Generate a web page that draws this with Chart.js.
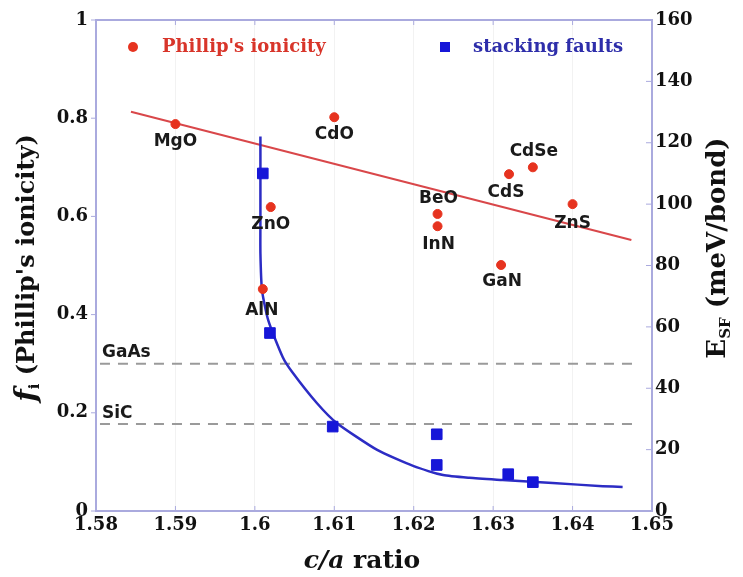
<!DOCTYPE html>
<html>
<head>
<meta charset="utf-8">
<script src="https://cdn.jsdelivr.net/npm/chart.js@4/dist/chart.umd.min.js"></script>
<style>
  body { margin: 0; background: #fff; }
  canvas { display: block; }
</style>
</head>
<body>
<canvas id="caChart" width="743" height="577"></canvas>
<script>
// Phillip's ionicity of each compound vs c/a
const compounds = ["MgO", "CdO", "ZnO", "AlN", "BeO", "InN", "GaN", "CdS", "CdSe", "ZnS"];
const caRatio   = [1.590, 1.610, 1.602, 1.601, 1.623, 1.623, 1.631, 1.632, 1.635, 1.640];
const ionicity  = [0.788, 0.802, 0.619, 0.452, 0.605, 0.580, 0.501, 0.686, 0.700, 0.625];

// linear trend through the ionicity points
const fitCa = [1.5844, 1.6474];
const fitIonicity = [0.813, 0.552];

// stacking fault energies (right axis)
const sfCa     = [1.6010, 1.6019, 1.6098, 1.6229, 1.6229, 1.6319, 1.6350];
const sfEnergy = [110, 58, 27.5, 25, 15, 12, 9.4];

// fitted curve through the stacking fault energies
const curveCa     = [1.6007, 1.6007, 1.6007, 1.6007, 1.6009, 1.6017, 1.6035, 1.6047, 1.6078, 1.6103, 1.6154, 1.6200, 1.6237, 1.6270, 1.6312, 1.6375, 1.6438, 1.6463];
const curveEnergy = [122, 110, 95, 84, 72, 62, 50.2, 45.3, 35.2, 28.7, 19.9, 14.6, 11.7, 10.8, 10.1, 9.1, 8.1, 7.8];

// reference compounds shown as dashed lines
const refNames = ["GaAs", "SiC"];
const refIonicity = [0.30, 0.177];
const refCa = [1.5805, 1.648];

const xTicks = [1.58, 1.59, 1.60, 1.61, 1.62, 1.63, 1.64, 1.65];
const xTickLabels = ["1.58", "1.59", "1.6", "1.61", "1.62", "1.63", "1.64", "1.65"];
const yTicks = [0, 0.2, 0.4, 0.6, 0.8, 1];
const yTickLabels = ["0", "0.2", "0.4", "0.6", "0.8", "1"];
const eTicks = [0, 20, 40, 60, 80, 100, 120, 140, 160];
const eTickLabels = ["0", "20", "40", "60", "80", "100", "120", "140", "160"];

// label placement relative to each red dot (pixels)
const labelOffset = {
  MgO: [0, 17], CdO: [0, 17], ZnO: [0, 18], AlN: [-1, 22], BeO: [1, -15],
  InN: [1, 18], GaN: [1, 17], CdS: [-3, 18], CdSe: [1, -16], ZnS: [0, 19]
};

const RED = "#e6331f";
const RED_LINE = "#d9474a";
const BLUE = "#1616d8";
const BLUE_LINE = "#2c2cc4";
const FRAME = "#aaaade";
const SERIF = "'DejaVu Serif', serif";
const SANS = "'DejaVu Sans', sans-serif";

const zip = (xs, ys) => xs.map((x, i) => ({ x: x, y: ys[i] }));

function drawParts(ctx, parts, cx, cy, angle) {
  ctx.save();
  ctx.translate(cx, cy);
  ctx.rotate(angle);
  ctx.textBaseline = "middle";
  ctx.textAlign = "left";
  let total = 0;
  parts.forEach(p => { ctx.font = p.font; p.w = ctx.measureText(p.text).width; total += p.w; });
  let x = -total / 2;
  parts.forEach(p => {
    ctx.font = p.font;
    ctx.fillText(p.text, x, p.dy || 0);
    x += p.w;
  });
  ctx.restore();
}

const decorations = {
  id: "decorations",
  afterDatasetsDraw(chart) {
    const ctx = chart.ctx;
    const a = chart.chartArea;
    const xs = chart.scales.x, ys = chart.scales.y, es = chart.scales.y2;

    // frame and tick marks
    ctx.save();
    ctx.strokeStyle = FRAME;
    ctx.lineWidth = 2;
    ctx.strokeRect(a.left, a.top, a.right - a.left, a.bottom - a.top);
    ctx.lineWidth = 1;
    ctx.beginPath();
    xTicks.forEach(v => {
      const px = xs.getPixelForValue(v);
      ctx.moveTo(px, a.bottom); ctx.lineTo(px, a.bottom - 5);
      ctx.moveTo(px, a.top); ctx.lineTo(px, a.top + 5);
    });
    yTicks.forEach(v => {
      const py = ys.getPixelForValue(v);
      ctx.moveTo(a.left, py); ctx.lineTo(a.left - 5, py);
    });
    eTicks.forEach(v => {
      const py = es.getPixelForValue(v);
      ctx.moveTo(a.right, py); ctx.lineTo(a.right - 6, py);
    });
    ctx.stroke();
    ctx.restore();

    // compound labels
    ctx.save();
    ctx.fillStyle = "#1a1a1a";
    ctx.font = "bold 17px " + SANS;
    ctx.textAlign = "center";
    ctx.textBaseline = "middle";
    compounds.forEach((name, i) => {
      const off = labelOffset[name];
      ctx.fillText(name, xs.getPixelForValue(caRatio[i]) + off[0], ys.getPixelForValue(ionicity[i]) + off[1]);
    });
    ctx.textAlign = "left";
    refNames.forEach((name, i) => {
      ctx.fillText(name, a.left + 6, ys.getPixelForValue(refIonicity[i]) - 11);
    });
    ctx.restore();

    // legend
    ctx.save();
    ctx.fillStyle = RED;
    ctx.beginPath();
    ctx.arc(133, 47, 5, 0, Math.PI * 2);
    ctx.fill();
    ctx.font = "bold 18px " + SERIF;
    ctx.textBaseline = "middle";
    ctx.fillStyle = "#d8352a";
    ctx.fillText("Phillip's ionicity", 162, 47);
    ctx.fillStyle = BLUE;
    ctx.fillRect(440, 42, 10, 10);
    ctx.fillStyle = "#2e2eaa";
    ctx.fillText("stacking faults", 473, 47);
    ctx.restore();

    // axis titles
    ctx.save();
    ctx.fillStyle = "#111";
    drawParts(ctx, [
      { text: "c/a", font: "italic bold 25px " + SERIF },
      { text: " ratio", font: "bold 25px " + SERIF }
    ], 362, 561, 0);
    drawParts(ctx, [
      { text: "f", font: "italic bold 29px " + SERIF },
      { text: "i", font: "bold 15px " + SERIF, dy: 7 },
      { text: " (Phillip's ionicity)", font: "bold 24px " + SERIF }
    ], 28, 268, -Math.PI / 2);
    drawParts(ctx, [
      { text: "E", font: "bold 26px " + SERIF },
      { text: "SF", font: "bold 15px " + SERIF, dy: 8 },
      { text: " (meV/bond)", font: "bold 26px " + SERIF }
    ], 718, 248, -Math.PI / 2);
    ctx.restore();
  }
};

const tickFont = { family: SERIF, size: 18, weight: "bold" };

new Chart(document.getElementById("caChart"), {
  type: "scatter",
  data: {
    datasets: [
      {
        label: "Phillip's ionicity",
        data: zip(caRatio, ionicity),
        yAxisID: "y",
        backgroundColor: RED,
        borderColor: RED,
        pointRadius: 4.5,
        order: 1
      },
      {
        label: "stacking faults",
        data: zip(sfCa, sfEnergy),
        yAxisID: "y2",
        pointStyle: "rect",
        backgroundColor: BLUE,
        borderColor: BLUE,
        pointRadius: 7.5,
        order: 0
      },
      {
        label: "fit",
        data: zip(fitCa, fitIonicity),
        yAxisID: "y",
        showLine: true,
        borderColor: RED_LINE,
        borderWidth: 2,
        pointRadius: 0,
        order: 4
      },
      {
        label: "curve",
        data: zip(curveCa, curveEnergy),
        yAxisID: "y2",
        showLine: true,
        borderColor: BLUE_LINE,
        borderWidth: 2.5,
        tension: 0.2,
        pointRadius: 0,
        order: 3
      },
      ...refNames.map((name, i) => ({
        label: name,
        data: zip(refCa, [refIonicity[i], refIonicity[i]]),
        yAxisID: "y",
        showLine: true,
        borderColor: "#9a9a9a",
        borderWidth: 2,
        borderDash: [10, 8],
        pointRadius: 0,
        order: 5
      }))
    ]
  },
  options: {
    responsive: false,
    animation: false,
    layout: { padding: { top: 20 } },
    plugins: { legend: { display: false }, tooltip: { enabled: false } },
    scales: {
      x: {
        type: "linear",
        min: 1.58,
        max: 1.65,
        afterBuildTicks: s => { s.ticks = xTicks.map(v => ({ value: v })); },
        afterFit: s => { s.height = 66; },
        ticks: { callback: (v, i) => xTickLabels[i], font: tickFont, color: "#111", padding: 4, maxRotation: 0 },
        grid: { color: "rgba(0,0,0,0.05)", drawTicks: false },
        border: { display: false }
      },
      y: {
        position: "left",
        min: 0,
        max: 1,
        afterBuildTicks: s => { s.ticks = yTicks.map(v => ({ value: v })); },
        afterFit: s => { s.width = 96; },
        ticks: { callback: (v, i) => yTickLabels[i], font: tickFont, color: "#111", padding: 8 },
        grid: { display: false, drawTicks: false },
        border: { display: false }
      },
      y2: {
        position: "right",
        min: 0,
        max: 160,
        afterBuildTicks: s => { s.ticks = eTicks.map(v => ({ value: v })); },
        afterFit: s => { s.width = 91; },
        ticks: { callback: (v, i) => eTickLabels[i], font: tickFont, color: "#111", padding: 3 },
        grid: { display: false, drawTicks: false },
        border: { display: false }
      }
    }
  },
  plugins: [decorations]
});
</script>
</body>
</html>
